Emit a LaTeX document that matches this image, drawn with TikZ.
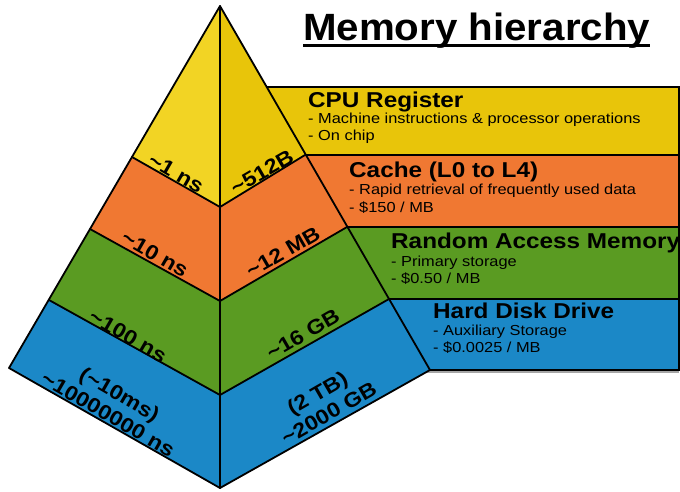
\documentclass[tikz,border=0pt]{standalone}
\usepackage{fontspec}
\setmainfont{Liberation Sans}
\newfontfamily\wf[FakeStretch=1.13]{Liberation Sans}
\newfontfamily\tf[FakeStretch=1.06]{Liberation Sans}
\definecolor{yelL}{HTML}{F2D424}
\definecolor{yelR}{HTML}{E8C50A}
\definecolor{orn}{HTML}{F07832}
\definecolor{grn}{HTML}{5A9B22}
\definecolor{blu}{HTML}{1B88C7}
\begin{document}
\begin{tikzpicture}[x=1pt,y=-1pt,
  edge/.style={line width=1.8pt, line join=round, line cap=round},
  boxline/.style={line width=1.5pt},
  head/.style={anchor=base west, inner sep=0pt, font=\wf\bfseries\fontsize{21.5}{24}\selectfont},
  sub/.style={anchor=base west, inner sep=0pt, font=\wf\fontsize{14.5}{17}\selectfont},
  lbl/.style={inner sep=0pt, align=center, font=\wf\bfseries\fontsize{20.5}{23}\selectfont}]
\useasboundingbox (0,0) rectangle (680,491);
\fill[white] (0,0) rectangle (680,491);
% pyramid points
\coordinate (A) at (220,6);
\coordinate (L1) at (132,157); \coordinate (C1) at (220,207); \coordinate (R1) at (305,155);
\coordinate (L2) at (90,229);  \coordinate (C2) at (220,301); \coordinate (R2) at (347,227);
\coordinate (L3) at (49,300);  \coordinate (C3) at (220,395); \coordinate (R3) at (389,299);
\coordinate (L4) at (9,368);   \coordinate (C4) at (220,488); \coordinate (R4) at (430,370);
% boxes
\fill[yelR] (240,87) rectangle (680,155);
\fill[orn]  (240,155) rectangle (680,227);
\fill[grn]  (240,227) rectangle (680,299);
\fill[blu]  (240,299) rectangle (680,370);
\draw[gray!70, line width=1.5pt] (300,372) -- (679,372);
\draw[boxline] (240,87) -- (680,87);
\draw[boxline] (240,155) -- (680,155);
\draw[boxline] (240,227) -- (680,227);
\draw[boxline] (240,299) -- (680,299);
\draw[boxline] (240,370) -- (680,370);
\draw[boxline] (679.2,87) -- (679.2,370);
% pyramid faces
\fill[yelL] (A) -- (L1) -- (C1) -- cycle;
\fill[yelR] (A) -- (C1) -- (R1) -- cycle;
\fill[orn] (L1) -- (L2) -- (C2) -- (R2) -- (R1) -- (C1) -- cycle;
\fill[grn] (L2) -- (L3) -- (C3) -- (R3) -- (R2) -- (C2) -- cycle;
\fill[blu] (L3) -- (L4) -- (C4) -- (R4) -- (R3) -- (C3) -- cycle;
\draw[edge] (A) -- (L4) -- (C4) -- (R4) -- cycle;
\draw[edge] (A) -- (C4);
\draw[edge] (L1) -- (C1) -- (R1);
\draw[edge] (L2) -- (C2) -- (R2);
\draw[edge] (L3) -- (C3) -- (R3);
% title
\node[anchor=base west, inner sep=0pt, font=\tf\bfseries\fontsize{38}{44}\selectfont] (title) at (303,40) {Memory hierarchy};
\draw[line width=3pt] ([yshift=-5pt]title.base west) -- ([yshift=-5pt]title.base east);
% box texts
\node[head] (h1) at (308,107) {CPU Register};
\node[sub] (s11) at (308,123) {- Machine instructions \& processor operations};
\node[sub] (s12) at (308,140) {- On chip};
\node[head] (h2) at (349,177) {Cache (L0 to L4)};
\node[sub] (s21) at (349,194) {- Rapid retrieval of frequently used data};
\node[sub] (s22) at (349,212) {- \$150 / MB};
\node[head] (h3) at (391,248) {Random Access Memory};
\node[sub] (s31) at (391,266) {- Primary storage};
\node[sub] (s32) at (391,283) {- \$0.50 / MB};
\node[head] (h4) at (433,318) {Hard Disk Drive};
\node[sub] (s41) at (433,335) {- Auxiliary Storage};
\node[sub] (s42) at (433,352) {- \$0.0025 / MB};
% pyramid labels
\node[lbl, rotate=-30] (t1) at (176,173) {\textasciitilde1 ns};
\node[lbl, rotate=30]  (c1) at (262,172) {\textasciitilde512B};
\node[lbl, rotate=-30] (t2) at (155,254) {\textasciitilde10 ns};
\node[lbl, rotate=30]  (c2) at (283,252) {\textasciitilde12 MB};
\node[lbl, rotate=-30] (t3) at (128,336) {\textasciitilde100 ns};
\node[lbl, rotate=30]  (c3) at (303,334) {\textasciitilde16 GB};
\node[lbl, rotate=-30] (t4) at (114,404) {(\textasciitilde10ms)\\\textasciitilde10000000 ns};
\node[lbl, rotate=30]  (c4) at (323,403) {(2 TB)\\\textasciitilde2000 GB};
\end{tikzpicture}
\end{document}
